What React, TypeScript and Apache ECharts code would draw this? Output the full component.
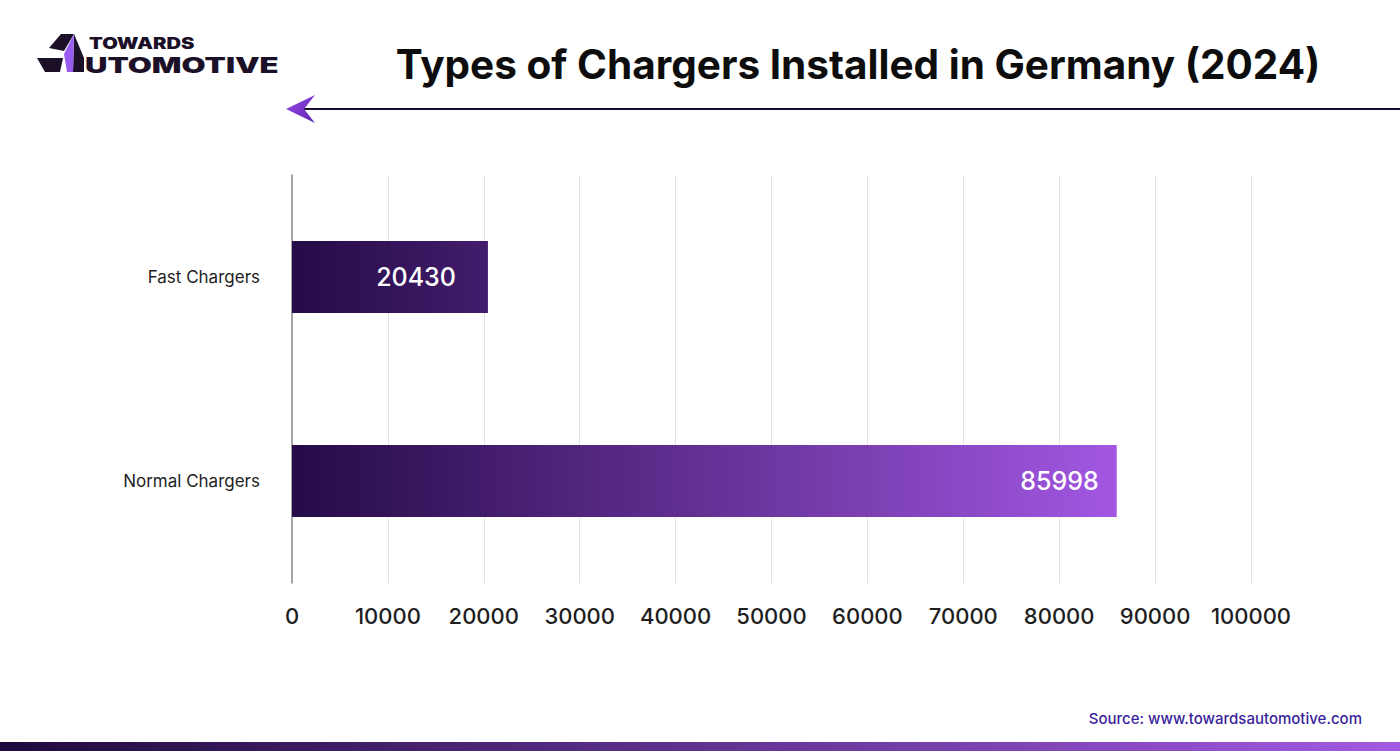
import React, { useEffect, useRef } from "react";
import * as echarts from "echarts";

const categories = ["Normal Chargers", "Fast Chargers"];
const values = [85998, 20430];
const labelDistances = [18, 32];
const xTicks = { min: 0, max: 100000, interval: 10000 };
const titleText = "Types of Chargers Installed in Germany (2024)";
const sourceText = "Source: www.towardsautomotive.com";

export default function App() {
  const ref = useRef<HTMLDivElement>(null);
  useEffect(() => {
    if (!ref.current) return;
    const chart = echarts.init(ref.current, null, { renderer: "svg" });
    const barGrad = new echarts.graphic.LinearGradient(292, 0, 1117, 0, [
      { offset: 0, color: "#250b47" },
      { offset: 1, color: "#a257e2" },
    ], true);
    const font = "Inter, 'Noto Sans', sans-serif";
    const option: any = {
      animation: false,
      backgroundColor: "#ffffff",
      grid: { left: 292, right: 149, top: 175, bottom: 168 },
      xAxis: {
        type: "value",
        min: xTicks.min,
        max: xTicks.max,
        interval: xTicks.interval,
        axisLine: { show: false },
        axisTick: { show: false },
        splitLine: { show: true, lineStyle: { color: "#e2e2e2", width: 1 } },
        axisLabel: {
          margin: 22,
          fontSize: 22,
          color: "#1e1e1e",
          fontFamily: font,
          fontWeight: 500,
          formatter: (v: number) => String(v),
        },
      },
      yAxis: {
        type: "category",
        data: categories,
        axisLine: { show: true, lineStyle: { color: "#8a8a8a", width: 1.5 } },
        axisTick: { show: false },
        axisLabel: {
          margin: 32,
          fontSize: 17,
          color: "#1e1e1e",
          fontFamily: font,
        },
      },
      series: [
        {
          type: "bar",
          barWidth: 72,
          data: values.map((v, i) => ({
            value: v,
            label: { distance: labelDistances[i] },
          })),
          itemStyle: { color: barGrad },
          label: {
            show: true,
            position: "insideRight",
            color: "#ffffff",
            fontSize: 25,
            fontFamily: font,
            fontWeight: 500,
          },
        },
      ],
      graphic: [
        {
          type: "text",
          style: {
            text: titleText,
            x: 858,
            y: 64,
            align: "center",
            verticalAlign: "middle",
            fontSize: 40.5,
            fontWeight: 700,
            fill: "#0d0d0d",
            fontFamily: font,
          },
        },
        {
          type: "line",
          shape: { x1: 300, y1: 109, x2: 1400, y2: 109 },
          style: { stroke: "#1a0f2e", lineWidth: 2 },
        },
        {
          type: "polygon",
          shape: { points: [[286, 109], [315, 95], [304, 109], [315, 123]] },
          style: {
            fill: new echarts.graphic.LinearGradient(0, 0, 1, 1, [
              { offset: 0, color: "#9b4ee8" },
              { offset: 1, color: "#5a22b0" },
            ]),
          },
        },
        // Logo icon
        {
          type: "polygon",
          shape: { points: [[49, 48], [61, 34], [74, 34], [64, 51]] },
          style: { fill: "#1b1028" },
        },
        {
          type: "polygon",
          shape: { points: [[37, 58], [63, 58], [60, 72], [45, 72]] },
          style: { fill: "#1b1028" },
        },
        {
          type: "polygon",
          shape: { points: [[74, 34], [84, 58], [84, 72], [73, 72]] },
          style: { fill: "#1b1028" },
        },
        {
          type: "polygon",
          shape: { points: [[74, 34], [64, 54], [67, 72], [73, 72]] },
          style: { fill: "#9a5cf0" },
        },
        {
          type: "text",
          x: 89,
          y: 43.5,
          scaleX: 1.3,
          style: {
            text: "TOWARDS",
            x: 0,
            y: 0,
            verticalAlign: "middle",
            fontSize: 15.5,
            fontWeight: 900,
            fill: "#1b1028",
            fontFamily: font,
          },
        },
        {
          type: "text",
          x: 85,
          y: 65,
          scaleX: 1.48,
          style: {
            text: "UTOMOTIVE",
            x: 0,
            y: 0,
            verticalAlign: "middle",
            fontSize: 21,
            fontWeight: 900,
            fill: "#1b1028",
            fontFamily: font,
          },
        },
        {
          type: "text",
          style: {
            text: sourceText,
            x: 1362,
            y: 718,
            align: "right",
            verticalAlign: "middle",
            fontSize: 15,
            fill: "#3a1f9c",
            fontFamily: font,
            fontWeight: 500,
          },
        },
        {
          type: "rect",
          shape: { x: 0, y: 742, width: 1400, height: 9 },
          style: {
            fill: new echarts.graphic.LinearGradient(0, 0, 1, 0, [
              { offset: 0, color: "#1e0a3c" },
              { offset: 1, color: "#a35ae2" },
            ]),
          },
        },
      ],
    };
    chart.setOption(option);
    return () => chart.dispose();
  }, []);
  return (
    <div
      ref={ref}
      style={{ position: "fixed", left: 0, top: 0, width: 1400, height: 751 }}
    />
  );
}
